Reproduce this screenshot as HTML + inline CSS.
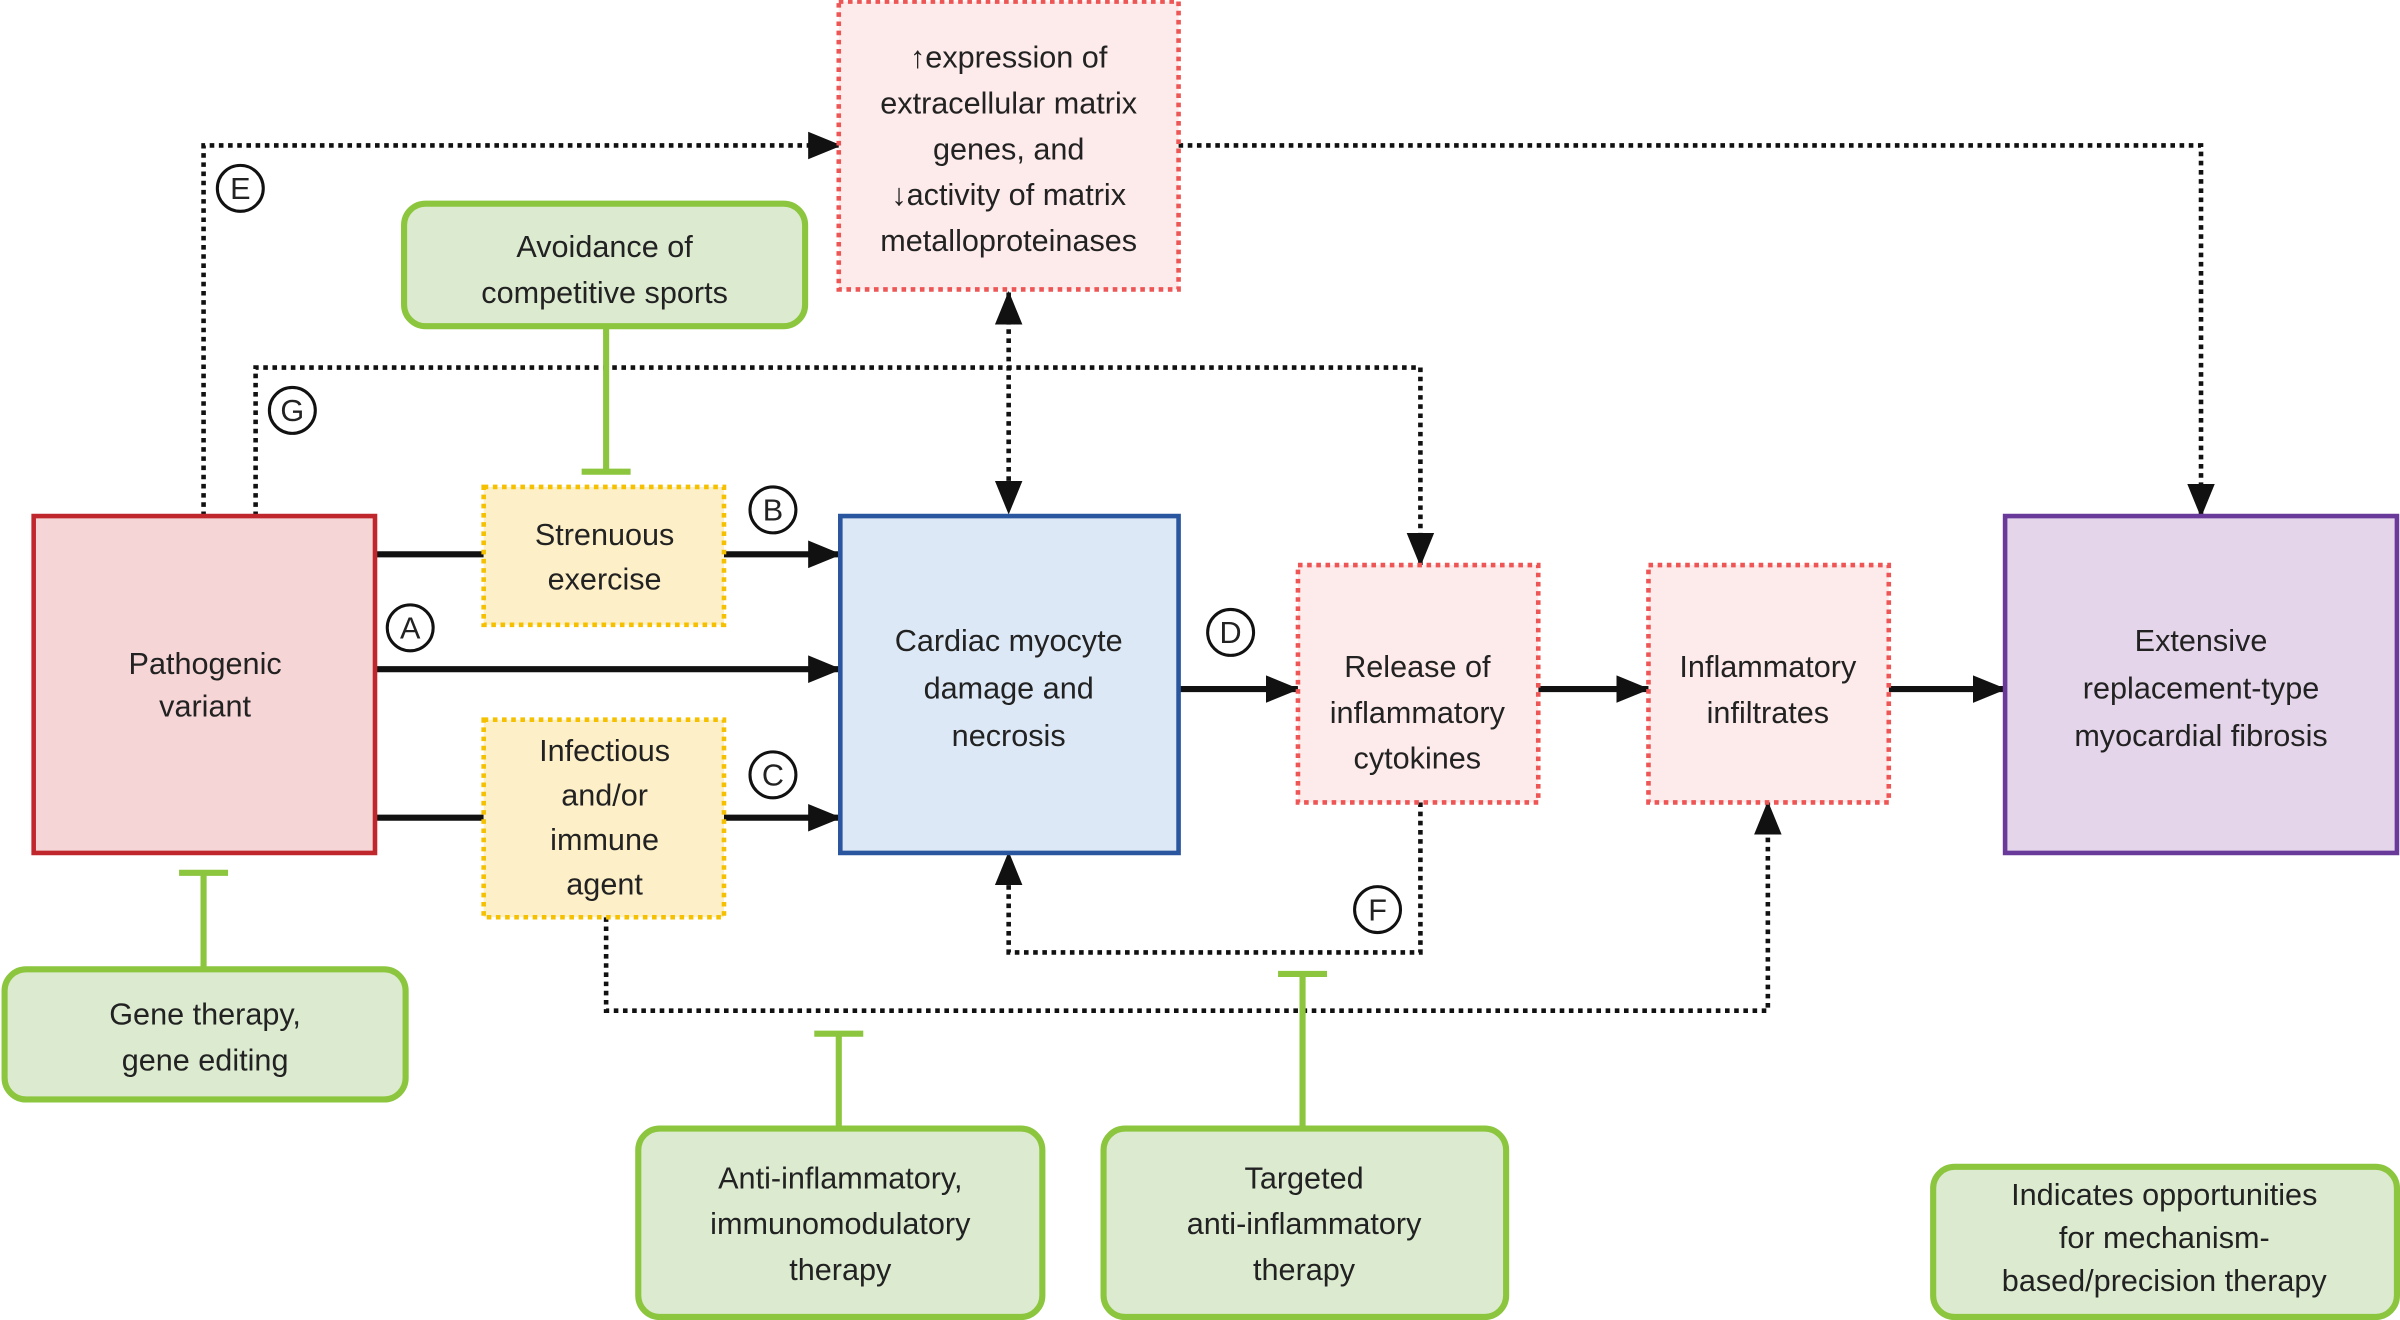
<!DOCTYPE html>
<html><head><style>
html,body{margin:0;padding:0;background:#fff;}
svg{display:block;}
text{font-family:"Liberation Sans","DejaVu Sans",sans-serif;font-size:20px;fill:#222;text-anchor:middle;}
</style></head><body>
<svg width="2400" height="1320" viewBox="0 0 1568 862" preserveAspectRatio="none" xmlns="http://www.w3.org/2000/svg">
<defs>
<marker id="ab" markerWidth="22" markerHeight="22" refX="21" refY="11" orient="auto-start-reverse" markerUnits="userSpaceOnUse" viewBox="0 0 22 22"><path d="M0,2 L22,11 L0,20 z" fill="#111"/></marker>
</defs>
<g fill="none" stroke="#111" stroke-width="4">
<line x1="245" y1="362" x2="316" y2="362"/>
<line x1="473" y1="362" x2="549" y2="362" marker-end="url(#ab)"/>
<line x1="245" y1="437" x2="549" y2="437" marker-end="url(#ab)"/>
<line x1="245" y1="534" x2="316" y2="534"/>
<line x1="473" y1="534" x2="549" y2="534" marker-end="url(#ab)"/>
<line x1="770" y1="450" x2="848" y2="450" marker-end="url(#ab)"/>
<line x1="1005" y1="450" x2="1077" y2="450" marker-end="url(#ab)"/>
<line x1="1234" y1="450" x2="1310" y2="450" marker-end="url(#ab)"/>
</g>
<g fill="none" stroke="#111" stroke-width="3" stroke-dasharray="3,3">
<polyline points="133,337 133,95 549,95" marker-end="url(#ab)"/>
<polyline points="770,95 1438,95 1438,337" marker-end="url(#ab)"/>
<polyline points="167,337 167,240 928,240 928,369" marker-end="url(#ab)"/>
<line x1="659" y1="191" x2="659" y2="335" marker-start="url(#ab)" marker-end="url(#ab)"/>
<polyline points="928,524 928,622 659,622 659,557" marker-end="url(#ab)"/>
<polyline points="396,599 396,660 1155,660 1155,524" marker-end="url(#ab)"/>
</g>
<g stroke="#8cc63f" stroke-width="4" fill="none">
<line x1="396" y1="213" x2="396" y2="308"/><line x1="380" y1="308" x2="412" y2="308"/>
<line x1="133" y1="633" x2="133" y2="570"/><line x1="117" y1="570" x2="149" y2="570"/>
<line x1="548" y1="737" x2="548" y2="675"/><line x1="532" y1="675" x2="564" y2="675"/>
<line x1="851" y1="737" x2="851" y2="636"/><line x1="835" y1="636" x2="867" y2="636"/>
</g>
<rect x="22" y="337" width="223" height="220" fill="#f5d5d5" stroke="#c0272d" stroke-width="3"/>
<rect x="549" y="337" width="221" height="220" fill="#dce8f5" stroke="#2a56a0" stroke-width="3"/>
<rect x="1310" y="337" width="256" height="220" fill="#e5d5ea" stroke="#6a3a9a" stroke-width="3"/>
<g stroke-dasharray="3,3" stroke-width="3">
<rect x="316" y="318" width="157" height="90" fill="#fdf0c8" stroke="#f5c000"/>
<rect x="316" y="470" width="157" height="129" fill="#fdf0c8" stroke="#f5c000"/>
<rect x="548" y="1" width="222" height="188" fill="#fdeaea" stroke="#ee5555"/>
<rect x="848" y="369" width="157" height="155" fill="#fdeaea" stroke="#ee5555"/>
<rect x="1077" y="369" width="157" height="155" fill="#fdeaea" stroke="#ee5555"/>
</g>
<g fill="#dcebd0" stroke="#8cc63f" stroke-width="4">
<rect x="264" y="133" width="262" height="80" rx="14"/>
<rect x="3" y="633" width="262" height="85" rx="14"/>
<rect x="417" y="737" width="264" height="123" rx="14"/>
<rect x="721" y="737" width="263" height="123" rx="14"/>
<rect x="1263" y="762" width="303" height="98" rx="14"/>
</g>
<g fill="#fff" stroke="#111" stroke-width="2">
<circle cx="157" cy="123" r="15"/><circle cx="191" cy="268" r="15"/><circle cx="505" cy="333" r="15"/>
<circle cx="268" cy="410" r="15"/><circle cx="505" cy="506" r="15"/><circle cx="804" cy="413" r="15"/><circle cx="900" cy="594" r="15"/>
</g>
<text x="157" y="130">E</text><text x="191" y="275">G</text><text x="505" y="340">B</text>
<text x="268" y="417">A</text><text x="505" y="513">C</text><text x="804" y="420">D</text><text x="900" y="601">F</text>
<text x="134" y="440">Pathogenic</text><text x="134" y="468">variant</text>
<text x="395" y="356">Strenuous</text><text x="395" y="385">exercise</text>
<text x="395" y="497">Infectious</text><text x="395" y="526">and/or</text><text x="395" y="555">immune</text><text x="395" y="584">agent</text>
<text x="659" y="425">Cardiac myocyte</text><text x="659" y="456">damage and</text><text x="659" y="487">necrosis</text>
<text x="659" y="44">↑expression of</text><text x="659" y="74">extracellular matrix</text><text x="659" y="104">genes, and</text><text x="659" y="134">↓activity of matrix</text><text x="659" y="164">metalloproteinases</text>
<text x="926" y="442">Release of</text><text x="926" y="472">inflammatory</text><text x="926" y="502">cytokines</text>
<text x="1155" y="442">Inflammatory</text><text x="1155" y="472">infiltrates</text>
<text x="1438" y="425">Extensive</text><text x="1438" y="456">replacement-type</text><text x="1438" y="487">myocardial fibrosis</text>
<text x="395" y="168">Avoidance of</text><text x="395" y="198">competitive sports</text>
<text x="134" y="669">Gene therapy,</text><text x="134" y="699">gene editing</text>
<text x="549" y="776">Anti-inflammatory,</text><text x="549" y="806">immunomodulatory</text><text x="549" y="836">therapy</text>
<text x="852" y="776">Targeted</text><text x="852" y="806">anti-inflammatory</text><text x="852" y="836">therapy</text>
<text x="1414" y="787">Indicates opportunities</text><text x="1414" y="815">for mechanism-</text><text x="1414" y="843">based/precision therapy</text>
</svg>
</body></html>
